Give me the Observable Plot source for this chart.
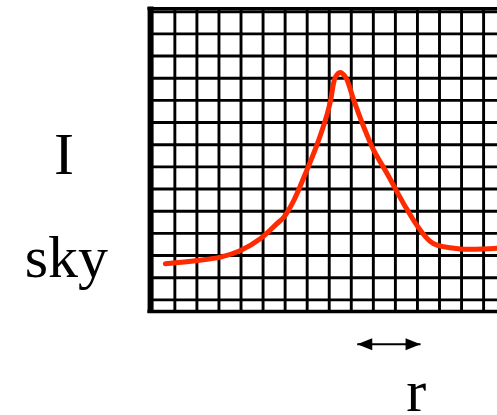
<!DOCTYPE html>
<html>
<head>
<meta charset="utf-8">
<script src="https://cdn.jsdelivr.net/npm/d3@7"></script>
<script src="https://cdn.jsdelivr.net/npm/@observablehq/plot@0.6"></script>
<style>
  body { margin: 0; background: #fff; }
</style>
</head>
<body>
<div id="chart"></div>
<script>
// Radial surface-brightness profile, in grid-cell units
const radius    = [0.57, 2.01, 3.07, 3.98, 4.89, 5.64, 5.94, 6.39, 6.85, 7.46, 7.91, 8.06, 8.28, 8.49, 8.74, 9.12, 9.57, 10.02, 10.63, 11.38, 12.14, 12.74, 13.95, 15.62];
const intensity = [1.63, 1.78, 1.93, 2.23, 2.77, 3.45, 3.73, 4.48, 5.53, 7.04, 8.39, 8.99, 10.05, 10.26, 10.05, 8.99, 7.79, 6.74, 5.69, 4.33, 3.13, 2.53, 2.30, 2.33];

// Graph-paper lines
const columns = d3.range(1, 16);
const rows = d3.range(0, 14);

// Axis words and the radial step marker
const labelText = ["I", "sky", "r"];
const labelX = [-4.03, -3.92, 11.95];
const labelY = [6.55, 1.90, -4.15];
const stepFrom = 9.27, stepTo = 12.14, stepLevel = -2.0;

const profile = radius.map((r, i) => ({r, v: intensity[i]}));
const labels = labelText.map((t, i) => ({t, x: labelX[i], y: labelY[i]}));

// Frame edges (grid units)
const frameLeft = -0.1, frameRight = 15.63, frameTop = 13.14, frameBottom = -0.52;

// Filled arrowhead with its tip at the origin, pointing right
const head = {
  draw(context) {
    context.moveTo(0, 0);
    context.lineTo(-15, -6);
    context.lineTo(-15, 6);
    context.closePath();
  }
};

const chart = Plot.plot({
  width: 497,
  height: 415,
  marginLeft: 152.3,
  marginRight: 0,
  marginTop: 11.2,
  marginBottom: 115.6,
  x: {domain: [0, frameRight], axis: null},
  y: {domain: [0, 13], axis: null},
  style: {background: "#fff"},
  marks: [
    Plot.ruleX(columns, {x: d => d, y1: frameBottom, y2: frameTop, stroke: "#000", strokeWidth: 2.9}),
    Plot.ruleY(rows, {y: d => d, x1: frameLeft, x2: frameRight, stroke: "#000", strokeWidth: 2.9}),
    Plot.ruleY([frameTop], {x1: frameLeft - 0.12, x2: frameRight, stroke: "#000", strokeWidth: 3}),
    Plot.ruleY([frameBottom], {x1: frameLeft - 0.12, x2: frameRight, stroke: "#000", strokeWidth: 3.5}),
    Plot.ruleX([frameLeft], {y1: frameBottom - 0.08, y2: frameTop + 0.07, stroke: "#000", strokeWidth: 6}),
    Plot.line(profile, {x: "r", y: "v", stroke: "#ff2a00", strokeWidth: 5, curve: "catmull-rom"}),
    Plot.link([{a: stepFrom, b: stepTo}], {x1: "a", x2: "b", y1: stepLevel, y2: stepLevel, stroke: "#000", strokeWidth: 2}),
    Plot.dot([{x: stepFrom, rot: 180}, {x: stepTo, rot: 0}], {x: "x", y: stepLevel, rotate: "rot", symbol: head, fill: "#000", stroke: "none", r: 5}),
    Plot.text(labels, {x: "x", y: "y", text: "t", fontFamily: "Liberation Serif", fontSize: 60, fill: "#000", textAnchor: "middle", lineAnchor: "middle"})
  ]
});

document.getElementById("chart").appendChild(chart);
</script>
</body>
</html>
